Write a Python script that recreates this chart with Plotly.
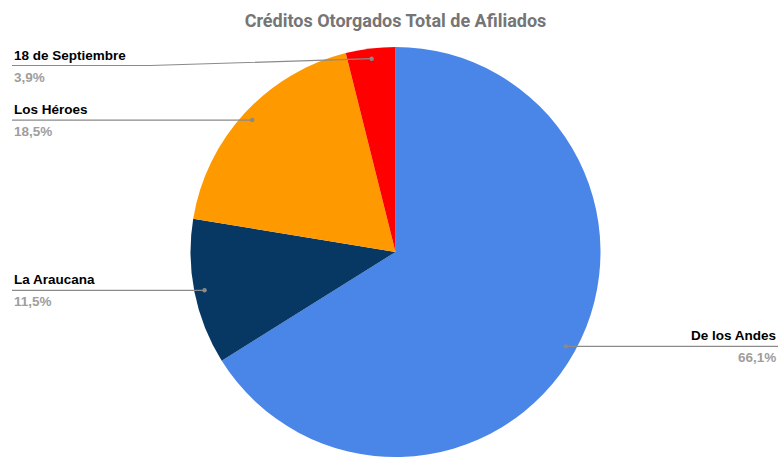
import math
import plotly.graph_objects as go

# ---- data ----
labels = ["De los Andes", "La Araucana", "Los Héroes", "18 de Septiembre"]
values = [66.1, 11.5, 18.5, 3.9]
pct_text = ["66,1%", "11,5%", "18,5%", "3,9%"]
colors = ["#4a86e8", "#073763", "#ff9900", "#ff0000"]
title = "Créditos Otorgados Total de Afiliados"

W, H = 782, 457
M_T, M_B, M_L, M_R = 47, 0, 0, 0
dom_x = [0.0115, 1.0]

fig = go.Figure()
fig.add_trace(go.Pie(
    labels=labels, values=values, sort=False, direction="clockwise",
    rotation=0, marker=dict(colors=colors, line=dict(width=0)),
    textinfo="none", hoverinfo="label+percent", showlegend=False,
    domain=dict(x=dom_x, y=[0, 1]),
))
# invisible trace so the cartesian axes (used for leader lines) exist
fig.add_trace(go.Scatter(x=[0, W], y=[H, M_T], mode="markers", marker=dict(opacity=0),
                         hoverinfo="skip", showlegend=False))

# pie geometry in pixel coords (derived from domain/margins)
plot_w = W - M_L - M_R
plot_h = H - M_T - M_B
cx = M_L + plot_w * (dom_x[0] + dom_x[1]) / 2
cy = M_T + plot_h / 2
r = min(plot_w * (dom_x[1] - dom_x[0]), plot_h) / 2

total = sum(values)
cum = 0
line_color = "#8a8a8a"
annotations = []
shapes = []
top_line = 65.5
left_x = 12
right_x = 778
elbow = 150
for lab, v, pt in zip(labels, values, pct_text):
    mid = (cum + v / 2) / total * 2 * math.pi
    cum += v
    dx = 0.95 * r * math.sin(mid)
    dy = -0.95 * r * math.cos(mid)
    px, py = cx + dx, cy + dy
    right = math.sin(mid) > 0
    ly = max(py, top_line)
    if right:
        pts = [(px, py), (right_x, ly)]
        ax, anchor = right_x, "right"
    else:
        ex = min(px, elbow)
        pts = [(px, py), (ex, ly), (left_x, ly)]
        ax, anchor = left_x, "left"
    path = "M " + " L ".join("%.2f %.2f" % p for p in pts)
    shapes.append(dict(type="path", path=path, xref="x", yref="y", layer="above",
                       line=dict(color=line_color, width=1.2)))
    shapes.append(dict(type="circle", xref="x", yref="y", layer="above",
                       x0=px - 2.2, x1=px + 2.2, y0=py - 2.2, y1=py + 2.2,
                       fillcolor=line_color, line=dict(width=0)))
    annotations.append(dict(x=ax, y=ly - 1, xref="x", yref="y", text="<b>%s</b>" % lab,
                            showarrow=False, xanchor=anchor, yanchor="bottom",
                            font=dict(family="Arial, Liberation Sans", size=13.5, color="#000000")))
    annotations.append(dict(x=ax, y=ly + 2, xref="x", yref="y", text="<b>%s</b>" % pt,
                            showarrow=False, xanchor=anchor, yanchor="top",
                            font=dict(family="Arial, Liberation Sans", size=13.5, color="#9e9e9e")))

fig.update_layout(
    width=W, height=H,
    margin=dict(l=M_L, r=M_R, t=M_T, b=M_B),
    paper_bgcolor="white", plot_bgcolor="rgba(0,0,0,0)",
    title=dict(text="<b>%s</b>" % title, x=395.5 / W, xanchor="center",
               y=1 - 20.5 / H, yanchor="middle",
               font=dict(family="Roboto", size=18, color="#757575")),
    xaxis=dict(range=[0, W], visible=False, fixedrange=True),
    yaxis=dict(range=[H, M_T], visible=False, fixedrange=True),
    annotations=annotations,
    shapes=shapes,
)

fig.write_html(
    "out.html",
    config={"displayModeBar": False},
    post_script="document.body.style.margin='0';document.body.style.overflow='hidden';",
)
